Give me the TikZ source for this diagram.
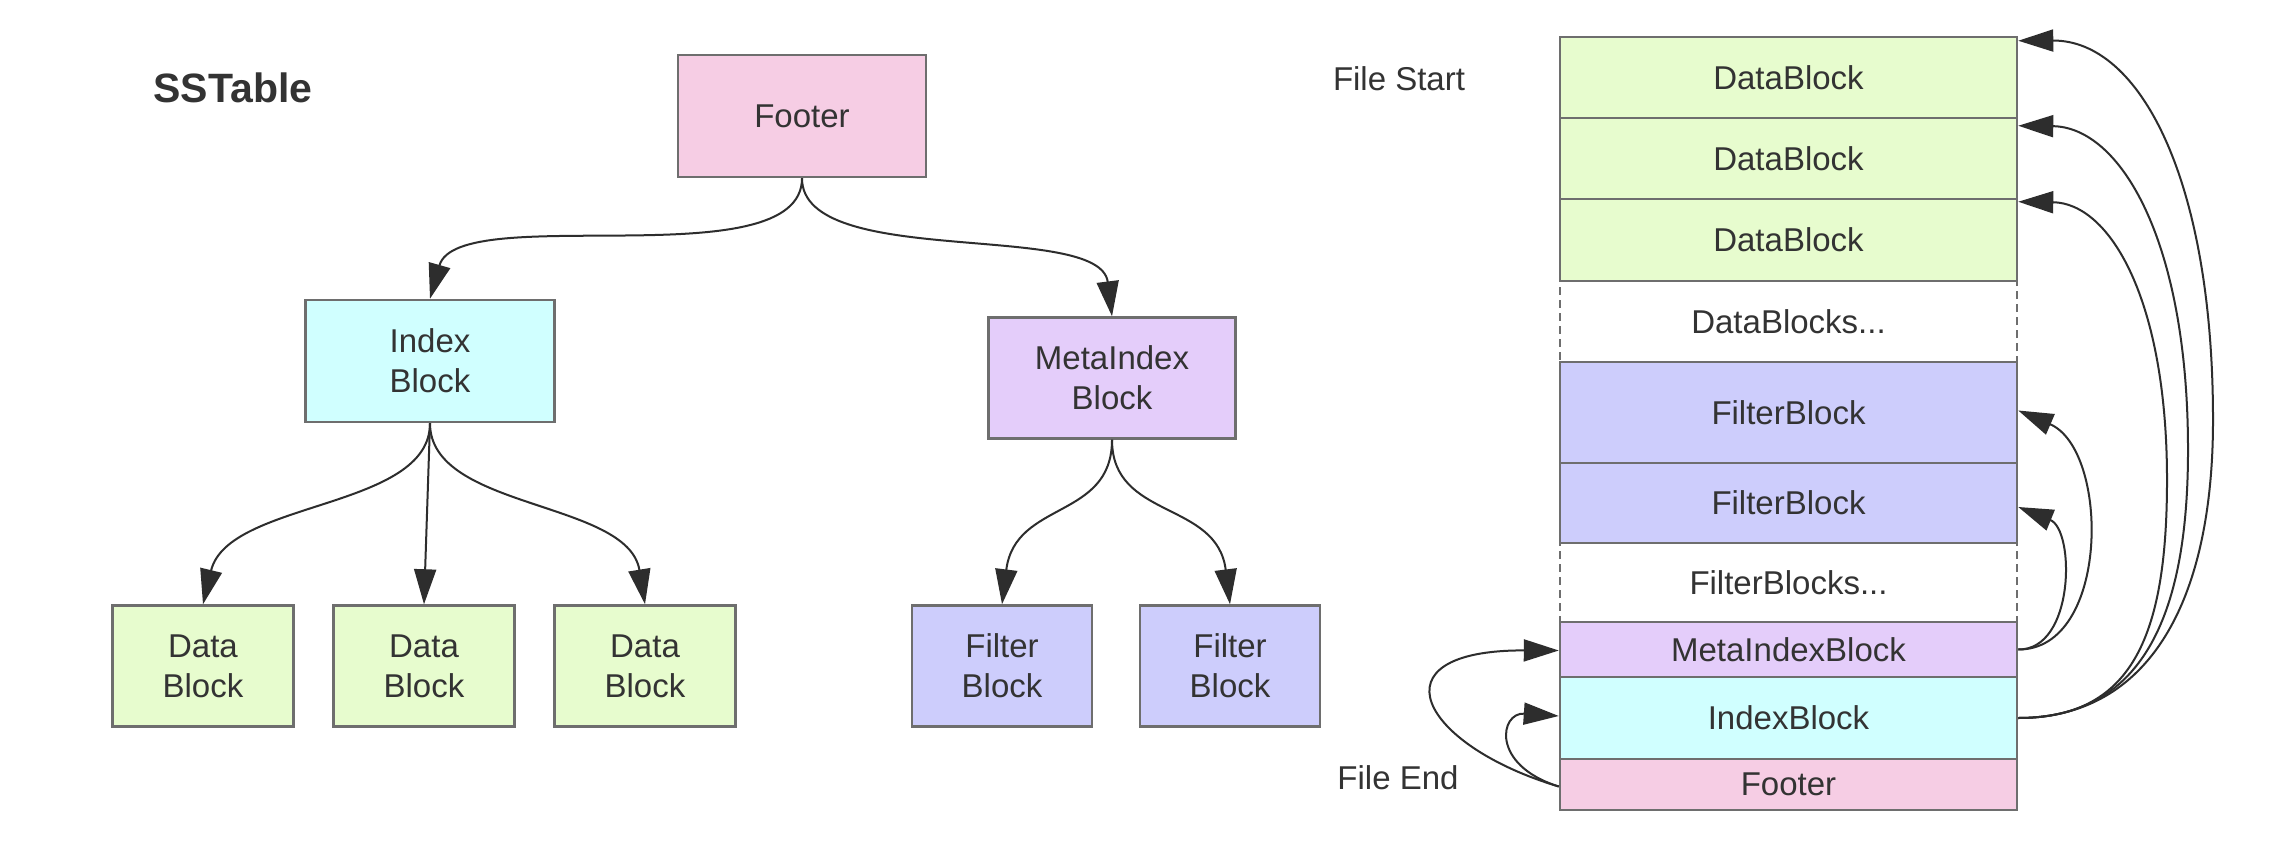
\documentclass[tikz,border=0pt]{standalone}
\usepackage{fontspec}
\setmainfont{Liberation Sans}
\usetikzlibrary{arrows.meta}
\definecolor{bordergray}{RGB}{110,110,110}
\definecolor{textgray}{RGB}{51,51,51}
\definecolor{linegray}{RGB}{45,45,45}
\definecolor{cpink}{RGB}{246,205,228}
\definecolor{ccyan}{RGB}{208,255,255}
\definecolor{clav}{RGB}{228,205,250}
\definecolor{cgreen}{RGB}{231,252,206}
\definecolor{cperi}{RGB}{205,205,252}
\tikzset{
  box/.style={draw=bordergray, line width=2.5pt, text=textgray, align=center, inner sep=0pt,
    font=\fontsize{33}{40}\selectfont},
  dbox/.style={box, dashed, dash pattern=on 8pt off 5pt, fill=white},
  arr/.style={draw=linegray, line width=2pt, -{Triangle[length=35pt,width=22pt]}, fill=none},
  lbl/.style={text=textgray, font=\fontsize{33}{40}\selectfont, inner sep=0pt}
}
\begin{document}
\begin{tikzpicture}[x=1pt,y=-1pt]
\useasboundingbox[fill=white] (0,0) rectangle (2280,848);

% ---------- left tree ----------
\node[text=textgray, font=\fontsize{41}{48}\selectfont\bfseries, inner sep=0pt] (title) at (233,88) {SSTable};
\node[box, fill=cpink, minimum width=248pt, minimum height=122pt] (lfooter) at (802,116) {Footer};
\node[box, fill=ccyan, minimum width=249pt, minimum height=122pt] (lindex) at (430,361) {Index\\Block};
\node[box, fill=clav, minimum width=247pt, minimum height=121pt] (lmeta) at (1112,378) {MetaIndex\\Block};
\node[box, fill=cgreen, minimum width=181pt, minimum height=121pt] (d1) at (203,666) {Data\\Block};
\node[box, fill=cgreen, minimum width=181pt, minimum height=121pt] (d2) at (424,666) {Data\\Block};
\node[box, fill=cgreen, minimum width=181pt, minimum height=121pt] (d3) at (645,666) {Data\\Block};
\node[box, fill=cperi, minimum width=180pt, minimum height=121pt] (f1) at (1002,666) {Filter\\Block};
\node[box, fill=cperi, minimum width=180pt, minimum height=121pt] (f2) at (1230,666) {Filter\\Block};

\draw[arr] (lfooter.south) .. controls (802,280) and (458,200) .. (lindex.north);
\draw[arr] (lfooter.south) .. controls (802,270) and (1100,220) .. (lmeta.north);
\draw[arr] (lindex.south) .. controls (430,510) and (228,500) .. (d1.north);
\draw[arr] (lindex.south) -- (d2.north);
\draw[arr] (lindex.south) .. controls (430,510) and (628,500) .. (d3.north);
\draw[arr] (lmeta.south) .. controls (1112,520) and (1015,500) .. (f1.north);
\draw[arr] (lmeta.south) .. controls (1112,520) and (1217,500) .. (f2.north);

% ---------- right stack ----------
\node[dbox, minimum width=457pt, minimum height=81pt] (dbs) at (1788.5,321.5) {DataBlocks...};
\node[dbox, minimum width=457pt, minimum height=79pt] (fbs) at (1788.5,582.5) {FilterBlocks...};
\node[box, fill=cgreen, minimum width=457pt, minimum height=81pt] (db1) at (1788.5,77.5) {DataBlock};
\node[box, fill=cgreen, minimum width=457pt, minimum height=81pt] (db2) at (1788.5,158.5) {DataBlock};
\node[box, fill=cgreen, minimum width=457pt, minimum height=82pt] (db3) at (1788.5,240) {DataBlock};
\node[box, fill=cperi, minimum width=457pt, minimum height=101pt] (fb1) at (1788.5,412.5) {FilterBlock};
\node[box, fill=cperi, minimum width=457pt, minimum height=80pt] (fb2) at (1788.5,503) {FilterBlock};
\node[box, fill=clav, minimum width=457pt, minimum height=55pt] (mi) at (1788.5,649.5) {MetaIndexBlock};
\node[box, fill=ccyan, minimum width=457pt, minimum height=82pt] (ib) at (1788.5,718) {IndexBlock};
\node[box, fill=cpink, minimum width=457pt, minimum height=51pt] (ft) at (1788.5,784.5) {Footer};

\node[lbl] (fstart) at (1399,79) {File Start};
\node[lbl] (fend) at (1398,778) {File End};

% index block -> data blocks
\draw[arr] (ib.east) .. controls (2150,718) and (2213,600) .. (2213,420)
  .. controls (2213,180) and (2140,40) .. ([yshift=-5pt]db1.north east);
\draw[arr] (ib.east) .. controls (2140,718) and (2188,620) .. (2188,450)
  .. controls (2188,240) and (2120,127) .. ([yshift=-9pt]db2.north east);
\draw[arr] (ib.east) .. controls (2130,718) and (2167,640) .. (2167,480)
  .. controls (2167,300) and (2110,203) .. ([yshift=-4pt]db3.north east);
% metaindex -> filter blocks
\draw[arr] (mi.east) .. controls (2110,650) and (2110,450) .. ([yshift=2pt]fb1.east);
\draw[arr] (mi.east) .. controls (2075,650) and (2075,530) .. ([yshift=-4pt]fb2.east);
% footer -> metaindex / index
\draw[arr] ([yshift=-2pt]ft.west) .. controls (1420,745) and (1370,650) .. ([yshift=-1pt]mi.west);
\draw[arr] ([yshift=-2pt]ft.west) .. controls (1490,765) and (1500,712) .. ([yshift=2pt]ib.west);
\end{tikzpicture}
\end{document}
